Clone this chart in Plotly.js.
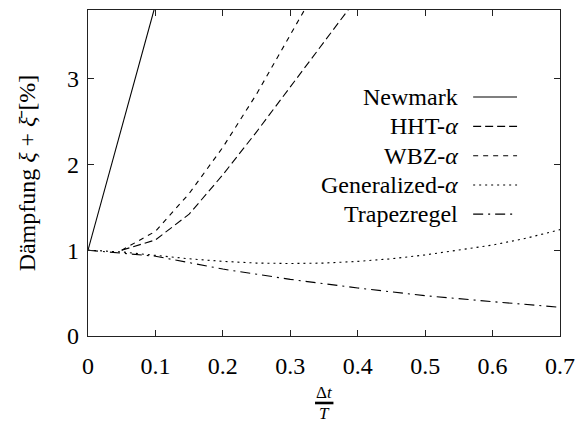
<!DOCTYPE html>
<html><head><meta charset="utf-8">
<script src="https://cdn.plot.ly/plotly-3.0.1.min.js"></script>
<style>html,body{margin:0;padding:0;background:#fff}</style>
</head><body>
<div id="chart" style="width:587px;height:423px"></div>
<script>
const seriesNames = ["Newmark", "HHT-<i>α</i>", "WBZ-<i>α</i>", "Generalized-<i>α</i>", "Trapezregel"];

const newmarkX = [0, 0.05, 0.1];
const newmarkY = [1, 2.42, 3.86];

const hhtX = [0.05, 0.1, 0.15, 0.2, 0.25, 0.3, 0.35, 0.4];
const hhtY = [1.0, 1.12, 1.42, 1.88, 2.38, 2.9, 3.42, 3.95];

const wbzX = [0.05, 0.1, 0.15, 0.2, 0.25, 0.3, 0.35];
const wbzY = [1.0, 1.22, 1.66, 2.2, 2.82, 3.5, 4.2];

const genX = [0, 0.05, 0.1, 0.15, 0.2, 0.25, 0.3, 0.35, 0.4, 0.45, 0.5, 0.55, 0.6, 0.65, 0.7];
const genY = [1.0, 0.98, 0.94, 0.9, 0.87, 0.85, 0.845, 0.85, 0.87, 0.9, 0.945, 1.0, 1.06, 1.14, 1.24];

const trapX = [0, 0.1, 0.2, 0.3, 0.4, 0.5, 0.6, 0.7];
const trapY = [1.0, 0.93, 0.78, 0.66, 0.56, 0.47, 0.4, 0.335];

const xTicks = [0, 0.1, 0.2, 0.3, 0.4, 0.5, 0.6, 0.7];
const yTicks = [0, 1, 2, 3];

const dashes = ["solid", "8px,4px", "5px,5px", "2px,4px", "10px,5px,2px,5px"];
const xs = [newmarkX, hhtX, wbzX, genX, trapX];
const ys = [newmarkY, hhtY, wbzY, genY, trapY];

const FONT = "Liberation Serif";

const traces = xs.map((x, i) => ({
  x: x, y: ys[i], type: "scatter", mode: "lines", name: seriesNames[i],
  line: {color: "#000", width: 1.1, dash: dashes[i]}, showlegend: false
}));

// legend drawn gnuplot-style: right-aligned text, then line sample
const legY = [0.733, 0.643, 0.553, 0.463, 0.374];
const annotations = seriesNames.map((n, i) => ({
  xref: "paper", yref: "paper", x: 0.788, y: legY[i], xanchor: "right", yanchor: "middle",
  text: n, showarrow: false, font: {family: FONT, size: 24, color: "#000"}
}));
const shapes = dashes.map((d, i) => ({
  type: "line", xref: "paper", yref: "paper", x0: 0.816, x1: 0.909, y0: legY[i], y1: legY[i],
  line: {color: "#000", width: 1.1, dash: d}
}));

// x-axis title as fraction Δt / T
annotations.push({xref: "paper", yref: "paper", x: 0.5, y: -0.172, xanchor: "center", yanchor: "middle",
  text: "Δ<i>t</i>", showarrow: false, font: {family: FONT, size: 17, color: "#000"}});
annotations.push({xref: "paper", yref: "paper", x: 0.5, y: -0.238, xanchor: "center", yanchor: "middle",
  text: "<i>T</i>", showarrow: false, font: {family: FONT, size: 17, color: "#000"}});
shapes.push({type: "line", xref: "paper", yref: "paper", x0: 0.481, x1: 0.52, y0: -0.2055, y1: -0.2055,
  line: {color: "#000", width: 2.6}});

const axisCommon = {
  showgrid: false, zeroline: false, showline: true, mirror: "allticks",
  linecolor: "#222", linewidth: 1.3, ticks: "inside", ticklen: 6, tickcolor: "#222",
  tickfont: {family: FONT, size: 24, color: "#000"}
};

const layout = {
  width: 587, height: 423,
  margin: {l: 88, r: 27, t: 10, b: 87},
  paper_bgcolor: "#fff", plot_bgcolor: "#fff",
  showlegend: false,
  font: {family: FONT},
  xaxis: Object.assign({}, axisCommon, {range: [0, 0.7], tickvals: xTicks, ticktext: xTicks.map(String), ticklabelstandoff: 8}),
  yaxis: Object.assign({}, axisCommon, {range: [0, 3.8], tickvals: yTicks, ticktext: yTicks.map(String), ticklabelstandoff: 3,
    title: {text: "Dämpfung <i>ξ</i> + <i>ξ̄</i> [%]", font: {family: FONT, size: 24, color: "#000"}, standoff: 24}}),
  annotations: annotations, shapes: shapes
};

Plotly.newPlot("chart", traces, layout, {displayModeBar: false, staticPlot: true});
</script>
</body></html>
